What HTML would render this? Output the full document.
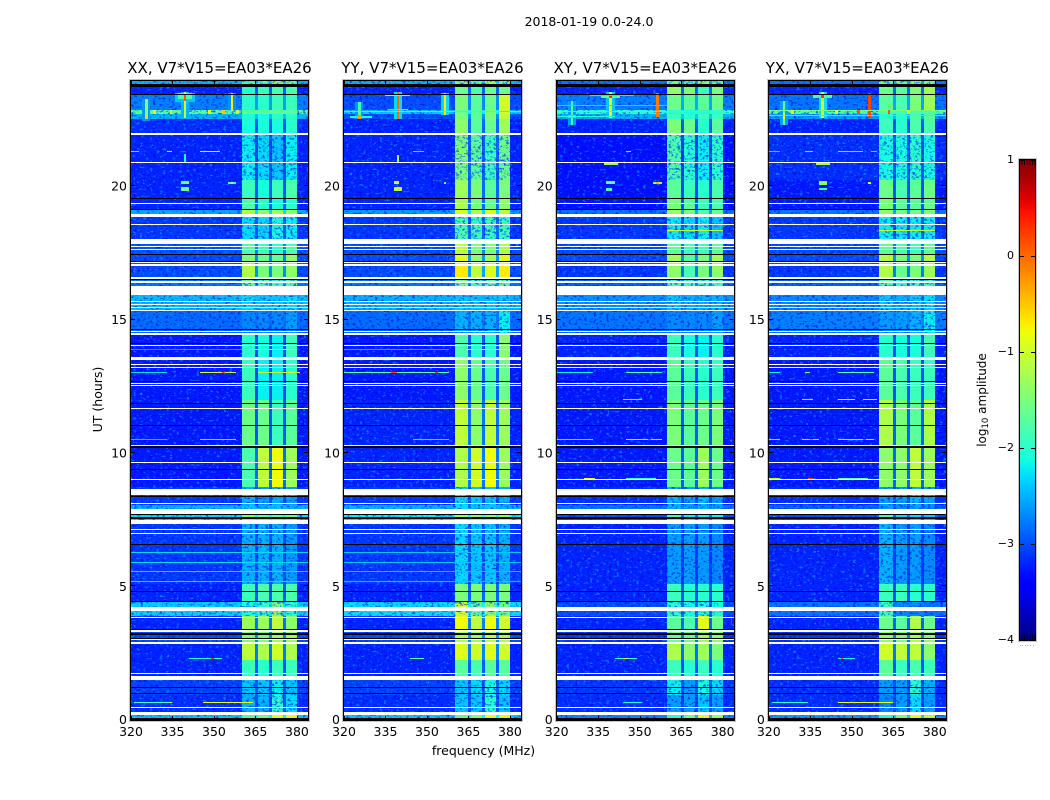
<!DOCTYPE html>
<html lang="en">
<head>
<meta charset="utf-8">
<title>2018-01-19 0.0-24.0</title>
<style>
html,body{margin:0;padding:0;background:#fff;width:1050px;height:800px;overflow:hidden}
svg{display:block}
text{font-family:"DejaVu Sans","Liberation Sans",sans-serif;fill:#000}
</style>
</head>
<body>
<svg id="chart" width="1050" height="800" viewBox="0 0 1050 800" xmlns="http://www.w3.org/2000/svg">
<defs>
<filter id="speckle-light" filterUnits="userSpaceOnUse" x="120" y="70" width="840" height="660" color-interpolation-filters="sRGB">
<feTurbulence type="fractalNoise" baseFrequency="0.3 0.45" numOctaves="2" seed="4" result="n"/>
<feColorMatrix in="n" type="matrix" values="0 0 0 0 0  0 0 0 0 0.55  0 0 0 0 1  3 0 0 0 -1.42" result="c"/>
<feComponentTransfer in="c" result="d"><feFuncA type="discrete" tableValues="0 0 0.5 0.85"/></feComponentTransfer>
<feComposite in="d" in2="SourceAlpha" operator="in"/>
</filter>
<filter id="speckle-dark" filterUnits="userSpaceOnUse" x="120" y="70" width="840" height="660" color-interpolation-filters="sRGB">
<feTurbulence type="fractalNoise" baseFrequency="0.32 0.47" numOctaves="2" seed="17" result="n"/>
<feColorMatrix in="n" type="matrix" values="0 0 0 0 0  0 0 0 0 0  0 0 0 0 0.9  3 0 0 0 -1.3" result="c"/>
<feComponentTransfer in="c" result="d"><feFuncA type="discrete" tableValues="0 0 0.35 0.6"/></feComponentTransfer>
<feComposite in="d" in2="SourceAlpha" operator="in"/>
</filter>
<linearGradient id="cbar-gradient" x1="0" y1="1" x2="0" y2="0"></linearGradient>
</defs>
<text x="589" y="26" text-anchor="middle" font-size="12.5">2018-01-19 0.0-24.0</text>
<text x="483.5" y="755" text-anchor="middle" font-size="12.5">frequency (MHz)</text>
<text transform="translate(102,399.5) rotate(-90)" text-anchor="middle" font-size="12.5">UT (hours)</text>
<text transform="translate(986,400) rotate(-90)" text-anchor="middle" font-size="12">log<tspan font-size="8.5" dy="2">10</tspan><tspan dy="-2"> amplitude</tspan></text>
</svg>
<script>
var panelTitles = ['XX, V7*V15=EA03*EA26','YY, V7*V15=EA03*EA26','XY, V7*V15=EA03*EA26','YX, V7*V15=EA03*EA26'];
var xTicks = [320,335,350,365,380];
var yTicks = [0,5,10,15,20];
var cbarTicks = [1,0,-1,-2,-3,-4];
var cbarLabels = ['1','0','\u22121','\u22122','\u22123','\u22124'];

/* frequency band index for each of the 64 1-MHz channels: -1 background, -2 gap, 0-3 bands A-D */
var channelBand = [-1,-1,-1,-1,-1,-1,-1,-1,-1,-1,-1,-1,-1,-1,-1,-1,-1,-1,-1,-1,
 -1,-1,-1,-1,-1,-1,-1,-1,-1,-1,-1,-1,-1,-1,-1,-1,-1,-1,-1,-1,
 0,0,0,0,0,-2,1,1,1,1,-2,2,2,2,2,-2,3,3,3,3,-1,-1,-1,-1];

/* upper edge (UT hours) of each time segment; last entry is the lower limit */
var rowTops = [23.98,23.71,23.41,22.87,22.72,22.51,21.95,20.23,19.52,19.12,18.84,17.83,17.42,17.00,16.51,15.96,15.32,14.42,13.48,11.98,10.30,8.72,8.05,7.67,7.33,5.09,4.45,3.89,3.36,2.87,2.24,1.49,0.93,0.29,0];
var noisyRows = [0,6,10,14,15,16,21,22,24,26,31,32];

/* log10 amplitude per time segment: [background, band A, band B, band C, band D] */
var levelsXX = [
[-2.5,-1.9,-1.8,-1.5,-1.7],[-3.2,-2.0,-1.9,-1.8,-1.8],[-2.75,-2.0,-2.0,-1.9,-1.9],[-1.7,-1.7,-1.7,-1.7,-1.7],
[-2.5,-2.1,-2.1,-2.0,-2.0],[-3.15,-2.1,-2.1,-2.1,-2.0],[-3.2,-2.2,-2.3,-2.4,-2.2],[-3.2,-1.9,-2.1,-1.9,-1.8],
[-3.2,-1.8,-2.0,-2.1,-2.0],[-2.55,-1.2,-1.4,-1.3,-1.4],[-3.1,-2.3,-2.3,-2.1,-2.2],[-2.95,-1.8,-1.9,-2.0,-1.8],
[-3.0,-1.5,-1.6,-1.6,-1.4],[-3.0,-1.2,-1.5,-1.5,-1.4],[-2.8,-1.7,-1.9,-1.9,-1.8],[-2.45,-2.3,-2.4,-2.4,-2.3],
[-2.85,-2.7,-2.7,-2.7,-2.6],[-3.25,-2.0,-2.1,-2.2,-1.9],[-3.25,-1.9,-2.2,-2.2,-2.0],[-3.25,-1.6,-1.6,-1.9,-1.7],
[-3.25,-1.8,-1.1,-0.8,-1.3],[-3.1,-2.5,-2.6,-2.5,-2.6],[-2.5,-2.4,-2.5,-2.4,-2.5],[-2.3,-1.5,-1.7,-1.7,-1.6],
[-3.1,-2.5,-2.5,-2.5,-2.6],[-3.2,-1.9,-1.8,-1.8,-1.8],[-2.35,-2.1,-1.9,-1.5,-2.0],[-3.2,-1.3,-1.3,-1.1,-1.4],
[-3.0,-1.5,-1.5,-1.3,-1.3],[-3.2,-1.1,-1.2,-1.0,-1.2],[-3.2,-1.9,-2.0,-1.9,-1.9],[-3.05,-2.4,-2.4,-2.2,-2.4],
[-3.15,-2.5,-2.5,-2.0,-2.3],[-2.4,-1.8,-1.6,-0.9,-0.9]];
var levelsYY = [
[-2.5,-1.6,-1.8,-1.4,-1.7],[-3.2,-1.6,-1.8,-1.6,-1.6],[-3.0,-1.5,-1.7,-1.6,-1.0],[-2.4,-1.6,-1.7,-1.5,-1.0],
[-3.0,-1.5,-1.7,-1.5,-1.1],[-3.2,-1.4,-1.7,-1.6,-1.3],[-3.2,-1.5,-1.7,-1.9,-1.6],[-3.2,-1.3,-1.5,-1.7,-1.5],
[-3.2,-1.2,-1.5,-1.6,-1.4],[-2.6,-0.9,-1.2,-0.9,-1.1],[-3.1,-1.8,-1.9,-1.9,-1.9],[-3.0,-1.1,-1.5,-1.5,-1.2],
[-3.0,-0.9,-1.4,-1.3,-0.9],[-3.0,-0.7,-1.1,-0.9,-0.7],[-2.8,-1.6,-1.9,-1.7,-1.7],[-2.5,-2.4,-2.4,-2.4,-2.4],
[-2.85,-2.5,-2.5,-2.5,-2.2],[-3.25,-1.8,-2.0,-2.0,-1.4],[-3.25,-1.4,-1.6,-1.8,-1.6],[-3.2,-1.1,-1.4,-1.1,-1.3],
[-3.2,-1.2,-1.0,-0.8,-1.3],[-3.1,-2.3,-2.4,-2.4,-2.5],[-2.5,-2.3,-2.4,-2.4,-2.5],[-2.2,-1.3,-1.4,-1.4,-1.4],
[-3.1,-2.3,-2.4,-2.4,-2.5],[-3.2,-1.5,-1.5,-1.5,-1.5],[-2.3,-1.0,-1.7,-1.4,-1.6],[-3.2,-0.8,-1.1,-0.8,-1.0],
[-3.0,-1.2,-1.3,-1.1,-1.2],[-3.2,-0.9,-1.0,-0.9,-1.0],[-3.2,-1.7,-1.8,-1.7,-1.7],[-3.05,-2.4,-2.3,-2.1,-2.3],
[-3.15,-2.4,-2.4,-2.0,-2.4],[-2.4,-1.7,-1.5,-0.9,-0.9]];
var levelsXY = [
[-2.8,-1.7,-1.8,-1.5,-1.8],[-3.2,-1.4,-1.5,-1.9,-1.5],[-2.75,-1.6,-1.7,-1.7,-1.6],[-2.0,-2.0,-2.1,-2.0,-2.0],
[-2.5,-1.9,-2.0,-1.9,-1.9],[-3.2,-1.5,-1.6,-2.0,-1.7],[-3.3,-1.8,-2.0,-2.2,-2.0],[-3.3,-1.7,-1.9,-2.0,-1.8],
[-3.3,-1.5,-1.7,-1.9,-1.8],[-2.8,-1.3,-1.5,-1.8,-1.6],[-3.1,-2.2,-2.3,-2.2,-2.4],[-3.0,-1.7,-1.9,-1.9,-1.7],
[-3.0,-1.3,-1.7,-1.5,-1.3],[-3.1,-1.4,-1.8,-1.5,-1.4],[-2.9,-1.8,-2.0,-1.9,-1.9],[-2.65,-2.4,-2.5,-2.5,-2.5],
[-2.8,-2.7,-2.7,-2.7,-2.6],[-3.2,-1.9,-2.1,-2.2,-2.0],[-3.25,-1.7,-1.9,-2.0,-1.9],[-3.25,-1.5,-1.7,-1.6,-1.5],
[-3.25,-1.6,-1.7,-1.3,-1.6],[-3.15,-2.5,-2.6,-2.5,-2.6],[-2.8,-2.5,-2.6,-2.5,-2.6],[-3.0,-1.9,-2.2,-2.2,-2.2],
[-3.2,-2.6,-2.6,-2.6,-2.7],[-3.2,-1.9,-2.0,-2.0,-2.0],[-3.0,-2.0,-2.1,-2.1,-2.1],[-3.2,-1.7,-1.8,-0.9,-1.6],
[-3.1,-1.6,-1.6,-1.3,-1.4],[-3.2,-1.2,-1.4,-1.3,-1.5],[-3.2,-1.9,-2.0,-1.9,-2.0],[-3.1,-2.2,-2.6,-2.1,-2.3],
[-3.15,-2.6,-2.6,-2.4,-2.6],[-2.7,-2.0,-1.6,-0.9,-1.4]];
var levelsYX = [
[-2.8,-1.7,-1.8,-1.4,-1.6],[-3.2,-1.6,-1.7,-1.5,-1.3],[-2.8,-1.7,-1.8,-1.5,-1.3],[-1.8,-1.8,-1.9,-1.8,-1.8],
[-2.6,-2.0,-2.0,-1.8,-1.7],[-3.2,-1.9,-2.0,-1.8,-1.8],[-3.15,-2.1,-2.1,-2.0,-2.1],[-3.25,-1.6,-1.8,-1.7,-1.6],
[-3.25,-1.5,-1.7,-1.7,-1.6],[-2.8,-1.4,-1.6,-1.6,-1.5],[-3.1,-2.2,-2.2,-2.2,-2.2],[-3.0,-1.7,-1.8,-1.9,-1.7],
[-3.0,-1.2,-1.5,-1.5,-1.2],[-3.1,-1.2,-1.6,-1.5,-1.3],[-2.9,-1.8,-2.0,-1.9,-1.9],[-2.7,-2.4,-2.5,-2.4,-2.3],
[-2.75,-2.6,-2.6,-2.5,-2.2],[-3.2,-2.0,-2.1,-2.1,-1.9],[-3.25,-1.7,-1.8,-1.9,-1.9],[-3.25,-1.2,-1.5,-1.7,-1.2],
[-3.25,-1.4,-1.4,-1.1,-1.3],[-3.15,-2.6,-2.6,-2.5,-2.6],[-2.9,-2.6,-2.7,-2.6,-2.7],[-3.0,-1.9,-2.3,-2.3,-2.4],
[-3.2,-2.5,-2.6,-2.6,-2.7],[-3.2,-1.9,-1.9,-2.0,-2.0],[-2.8,-1.9,-2.7,-2.7,-2.8],[-3.2,-1.6,-1.7,-1.2,-1.6],
[-3.1,-1.4,-1.5,-1.2,-1.4],[-3.2,-1.0,-1.1,-1.1,-1.4],[-3.2,-1.7,-1.9,-1.8,-1.9],[-3.15,-2.6,-2.6,-2.0,-2.5],
[-3.15,-2.7,-2.6,-2.3,-2.6],[-2.6,-2.1,-1.6,-0.9,-1.2]];

/* interference features: [first channel, last channel, top hour, bottom hour, log10 amplitude] */
var rfiXX = [
[4,6,23.26,22.45,-2.65],[5,5,23.26,22.51,-1.4],[5,5,22.65,22.55,-0.6],[18,20,23.53,22.55,-2.5],[16,22,23.5,23.15,-2.4],[17,21,23.5,23.25,-1.8],[19,19,23.53,22.55,-1.0],[19,19,23.45,23.2,0.1],
[35,37,23.49,22.85,-2.65],[36,36,23.49,22.85,-0.7],[8,8,22.87,22.72,-0.9],[14,14,22.87,22.72,-1.0],[28,28,22.87,22.72,-0.8],[33,33,22.87,22.72,-0.5],[38,38,22.87,22.72,-1.0],
[18,20,20.2,20.06,-1.6],[18,20,19.95,19.81,-1.6],[35,37,20.17,20.08,-1.9],[36,36,20.17,20.08,-1.1],
[25,31,21.3,21.26,-1.0],[13,14,21.3,21.26,-1.6],[0,2,21.3,21.26,-2.0],[19,19,21.2,20.9,-2.1],
[0,12,13.04,13.0,-2.3],[25,37,13.04,13.0,-1.0],[33,33,13.04,13.0,0.2],[46,60,13.04,13.0,-1.0],
[0,39,13.88,13.84,-2.6],[44,59,13.88,13.84,-1.0],[0,12,10.53,10.49,-2.4],[25,37,10.53,10.49,-1.9],
[0,63,6.28,6.24,-2.3],[0,63,5.92,5.88,-2.3],[0,63,5.58,5.54,-2.3],[0,63,5.21,5.17,-2.3],
[1,7,0.67,0.63,-1.9],[8,13,0.67,0.63,-1.9],[14,14,0.67,0.63,-0.9],[26,31,0.67,0.63,-0.9],[32,37,0.67,0.63,-0.9],[38,43,0.67,0.63,-0.9],
[21,32,2.32,2.28,-2.0],[29,29,2.32,2.28,0.3]];
var rfiYY = [
[4,6,23.16,22.5,-2.65],[5,5,23.16,22.55,-1.8],[2,9,22.61,22.55,-2.1],[5,5,22.66,22.5,-0.3],[18,20,23.53,22.5,-2.3],[19,19,23.53,22.5,0.0],[15,23,23.43,23.37,-1.5],[16,22,22.9,22.85,-2.0],
[35,37,23.49,22.68,-2.3],[36,36,23.49,22.68,-0.7],[0,63,22.81,22.77,-1.9],[19,19,21.17,20.87,-1.2],
[18,19,20.2,20.06,-1.0],[18,20,19.95,19.81,-1.1],[36,36,20.17,20.08,-1.5],[25,28,21.3,21.26,-2.2],
[0,37,13.04,13.0,-1.7],[17,18,13.04,13.0,0.2],[33,33,13.04,13.0,0.2],[0,37,13.88,13.84,-2.5],[44,59,13.88,13.84,-0.9],[25,37,10.53,10.49,-2.2],
[0,63,6.28,6.24,-2.4],[0,63,5.92,5.88,-2.4],[0,63,5.58,5.54,-2.4],[0,63,5.21,5.17,-2.4],[24,28,2.32,2.28,-1.7]];
var rfiXY = [
[4,6,23.2,22.3,-2.6],[5,5,23.2,22.3,-1.8],[4,6,22.65,22.55,-0.3],[18,20,23.54,22.55,-2.4],[19,19,23.54,22.55,-0.9],[16,22,23.45,23.3,-1.7],[19,19,23.45,23.3,0.3],[12,27,23.4,23.36,-2.2],
[36,36,23.49,22.6,-0.1],[0,63,22.83,22.77,-1.9],[0,20,22.62,22.58,-2.0],[0,39,23.05,23.0,-2.3],
[18,20,20.18,20.06,-1.7],[18,19,19.92,19.82,-1.8],[35,37,20.14,20.06,-1.3],[36,36,20.14,20.06,-0.4],[17,21,20.87,20.8,-1.3],[25,26,21.3,21.26,-1.6],
[0,12,13.04,13.0,-2.2],[25,37,13.04,13.0,-1.8],[40,59,18.34,18.30,-1.0],[24,30,12.03,11.99,-1.8],
[0,12,10.53,10.49,-2.1],[25,37,10.53,10.49,-1.4],[33,33,10.53,10.49,0.2],[25,35,9.07,9.03,-1.8],[10,13,9.07,9.03,-0.8],
[21,28,2.32,2.28,-2.0],[24,25,2.32,2.28,-1.2],[24,30,0.67,0.63,-2.1]];
var rfiYX = [
[4,6,23.2,22.3,-2.6],[5,5,23.2,22.3,-1.6],[5,5,22.75,22.5,-0.8],[18,20,23.54,22.55,-2.3],[19,19,23.54,22.55,-1.0],[16,22,23.45,23.3,-1.8],[19,19,23.45,23.3,0.3],[36,36,23.49,22.6,0.2],
[0,63,22.85,22.8,-1.5],[0,63,22.68,22.64,-2.0],[8,8,22.87,22.72,-0.9],[24,24,22.87,22.72,-0.8],[32,32,22.87,22.72,0.1],[43,43,22.87,22.72,0.1],[50,50,22.87,22.72,-0.8],
[18,20,20.2,20.05,-1.4],[18,20,19.92,19.84,-1.9],[36,36,20.14,20.06,-1.0],[17,21,20.87,20.8,-1.2],
[25,33,21.3,21.26,-1.9],[13,15,21.3,21.26,-2.0],[0,3,21.3,21.26,-2.3],[37,38,21.3,21.26,-2.2],
[25,37,13.04,13.0,-1.8],[0,3,13.04,13.0,-2.2],[13,14,13.04,13.0,-1.6],[40,59,18.34,18.30,-1.0],
[25,30,12.03,11.99,-1.1],[12,15,12.03,11.99,-1.5],[34,38,12.03,11.99,-1.2],
[0,3,10.53,10.49,-1.7],[12,17,10.53,10.49,-1.5],[15,15,10.53,10.49,0.0],[25,37,10.53,10.49,-1.3],[34,34,10.53,10.49,0.3],
[0,3,9.07,9.03,-1.0],[14,15,9.07,9.03,0.1],[25,35,9.07,9.03,-1.6],[25,30,2.32,2.28,-2.1],[26,26,2.32,2.28,0.3],
[1,6,0.67,0.63,-2.0],[7,13,0.67,0.63,-2.0],[25,30,0.67,0.63,-0.9],[31,37,0.67,0.63,-0.9],[38,44,0.67,0.63,-0.9]];

/* flagged (blank) time ranges [low hour, high hour] */
var flaggedRows = [[21.93,22.00],[20.87,20.90],[19.33,19.36],[18.84,18.97],[18.54,18.58],[17.83,18.03],[17.71,17.74],[17.60,17.63],[17.11,17.14],[17.02,17.07],[16.53,16.58],[16.36,16.45],[15.93,16.27],[15.66,15.69],[15.54,15.58],[15.42,15.46],[15.32,15.36],[14.53,14.57],[14.42,14.51],[14.02,14.04],[13.48,13.61],[13.28,13.32],[13.19,13.23],[12.57,12.61],[12.49,12.53],[11.66,11.69],[10.26,10.30],[9.62,9.66],[9.00,9.03],[8.46,8.66],[8.41,8.45],[8.08,8.12],[7.71,7.90],[7.33,7.47],[7.10,7.14],[6.96,7.00],[4.07,4.24],[3.81,3.86],[3.28,3.35],[3.00,3.02],[2.85,2.92],[1.70,1.74],[1.49,1.64],[0.44,0.48],[0.18,0.28]];
/* zero-amplitude (black) time ranges [low hour, high hour] */
var zeroRows = [[23.70,23.82],[23.42,23.46],[19.52,19.56],[19.10,19.14],[17.42,17.46],[17.15,17.19],[16.49,16.53],[14.59,14.63],[14.52,14.56],[14.09,14.13],[12.65,12.69],[11.82,11.86],[11.01,11.05],[10.20,10.24],[9.36,9.40],[8.34,8.38],[7.66,7.70],[7.54,7.58],[6.56,6.60],[4.78,4.82],[4.41,4.45],[3.36,3.40],[3.22,3.26],[3.17,3.21],[3.04,3.08],[1.19,1.23],[0.97,1.01],[0,0.08]];

var panelLevels = [levelsXX,levelsYY,levelsXY,levelsYX];
var panelRfi = [rfiXX,rfiYY,rfiXY,rfiYX];
var panelNames = ['xx','yy','xy','yx'];

var panelLefts = [131,344,556.7,768.8];
var PANEL_W = 177, AX_TOP = 81, AX_BOTTOM = 720;
var VMIN = -4, VMAX = 1, FMIN = 320, FMAX = 384;
var Y0 = 719.7, PX_PER_HOUR = 26.68;

var svg = document.getElementById('chart');
var NS = 'http://www.w3.org/2000/svg';

function xScale(left, f){ return left + (f - FMIN) / (FMAX - FMIN) * PANEL_W; }
function yScale(h){ return Y0 - h * PX_PER_HOUR; }
function ramp(t, a, b, va, vb){ return va + (t - a) / (b - a) * (vb - va); }
function jet(v){
  var t = Math.max(0, Math.min(1, (v - VMIN) / (VMAX - VMIN)));
  var r = t < .35 ? 0 : t < .66 ? ramp(t,.35,.66,0,1) : t < .89 ? 1 : ramp(t,.89,1,1,.5);
  var g = t < .125 ? 0 : t < .375 ? ramp(t,.125,.375,0,1) : t < .64 ? 1 : t < .91 ? ramp(t,.64,.91,1,0) : 0;
  var b = t < .11 ? ramp(t,0,.11,.5,1) : t < .34 ? 1 : t < .65 ? ramp(t,.34,.65,1,0) : 0;
  return 'rgb(' + Math.round(r*255) + ',' + Math.round(g*255) + ',' + Math.round(b*255) + ')';
}
function make(tag, attrs, parent){
  var el = document.createElementNS(NS, tag);
  for (var k in attrs) el.setAttribute(k, attrs[k]);
  parent.appendChild(el);
  return el;
}
function hourRect(parent, left, hTop, hBottom, c0, c1, fill){
  var x0 = Math.round(xScale(left, FMIN + c0)), x1 = Math.round(xScale(left, FMIN + c1 + 1));
  var y0 = Math.round(yScale(hTop)), y1 = Math.round(yScale(hBottom));
  return make('rect', {x:x0, y:y0, width:Math.max(1,x1-x0), height:Math.max(1,y1-y0), fill:fill}, parent);
}
function cellValue(level, ch){
  var b = channelBand[ch];
  if (b === -1) return level[0];
  if (b === -2) {
    var neighbour = (level[1] + level[2] + level[3] + level[4]) / 4;
    return level[0] + 0.2 * (neighbour - level[0]);
  }
  return level[b + 1];
}

panelTitles.forEach(function(title, p){
  var left = panelLefts[p], right = left + PANEL_W, levels = panelLevels[p];
  var g = make('g', {}, svg);
  
  

  var heat = make('g', {'shape-rendering':'crispEdges'}, g);
  
  
  levels.forEach(function(level, r){
    for (var ch = 0; ch < 64; ch++) {
      var cell = hourRect(heat, left, rowTops[r], rowTops[r+1], ch, ch, jet(cellValue(level, ch)));
      
      
    }
  });

  /* visual grain only: a filter texture over the noise-floor areas, carrying no data */
  ['speckle-light','speckle-dark'].forEach(function(fid){
    var tex = make('g', {filter:'url(#' + fid + ')', 'shape-rendering':'crispEdges'}, g);
    
    
    levels.forEach(function(level, r){
      if (noisyRows.indexOf(r) >= 0) {
        hourRect(tex, left, rowTops[r], rowTops[r+1], 0, 63, '#000');
      } else {
        hourRect(tex, left, rowTops[r], rowTops[r+1], 0, 39, '#000');
        hourRect(tex, left, rowTops[r], rowTops[r+1], 60, 63, '#000');
      }
    });
  });

  var rfi = make('g', {'shape-rendering':'crispEdges'}, g);
  
  
  panelRfi[p].forEach(function(f){
    var mark = hourRect(rfi, left, f[2], f[3], f[0], f[1], jet(f[4]));
    
    
  });

  var blanks = make('g', {'shape-rendering':'crispEdges'}, g);
  
  
  zeroRows.forEach(function(z){
    var line = hourRect(blanks, left, z[1], z[0], 0, 63, '#000');
    
    
  });
  flaggedRows.forEach(function(z){
    var line = hourRect(blanks, left, z[1], z[0], 0, 63, '#fff');
    
    
  });

  var frame = make('g', {'shape-rendering':'crispEdges'}, g);
  
  
  make('rect', {x:Math.round(left)-1.5, y:AX_TOP-1.5, width:PANEL_W+3, height:AX_BOTTOM-AX_TOP+3, fill:'none', stroke:'#c4c4c4', 'stroke-width':1}, frame);
  make('rect', {x:Math.round(left)-0.5, y:AX_TOP-0.5, width:PANEL_W+1, height:AX_BOTTOM-AX_TOP+1, fill:'none', stroke:'#000', 'stroke-width':1}, frame);

  xTicks.forEach(function(f){
    var x = Math.round(xScale(left, f)) + 0.5;
    var t1 = make('line', {x1:x, x2:x, y1:AX_BOTTOM, y2:AX_BOTTOM-4, stroke:'#000'}, frame);
    
    
    var t2 = make('line', {x1:x, x2:x, y1:AX_TOP, y2:AX_TOP+4, stroke:'#000'}, frame);
    
    
    var lab = make('text', {x:xScale(left, f), y:736, 'text-anchor':'middle', 'font-size':12.5}, g);
    
    
    lab.textContent = f;
  });
  yTicks.forEach(function(h){
    var y = Math.round(yScale(h)) - 0.5;
    var t1 = make('line', {x1:left, x2:left+4, y1:y, y2:y, stroke:'#000'}, frame);
    
    
    var t2 = make('line', {x1:right, x2:right-4, y1:y, y2:y, stroke:'#000'}, frame);
    
    
    var lab = make('text', {x:left-4, y:yScale(h)+4.5, 'text-anchor':'end', 'font-size':12.5}, g);
    
    
    lab.textContent = h;
  });

  var tt = make('text', {x:left + PANEL_W/2, y:73, 'text-anchor':'middle', 'font-size':15}, g);
  
  
  tt.textContent = title;
});

/* colorbar */
var CB_X = 1020, CB_W = 15, CB_TOP = 160, CB_BOTTOM = 640;
function cbScale(v){ return CB_BOTTOM - (v - VMIN) / (VMAX - VMIN) * (CB_BOTTOM - CB_TOP); }
var grad = document.getElementById('cbar-gradient');
for (var s = 0; s <= 50; s++) {
  make('stop', {offset:(s/50), 'stop-color':jet(VMIN + s/50*(VMAX-VMIN))}, grad);
}
var cb = make('g', {}, svg);


make('rect', {x:CB_X-1.5, y:CB_TOP-1.5, width:CB_W+3, height:CB_BOTTOM-CB_TOP+3, fill:'none', stroke:'#c4c4c4', 'shape-rendering':'crispEdges'}, cb);
make('rect', {x:CB_X-0.5, y:CB_TOP-0.5, width:CB_W+1, height:CB_BOTTOM-CB_TOP+1, fill:'url(#cbar-gradient)', stroke:'#000', 'shape-rendering':'crispEdges'}, cb);
cbarTicks.forEach(function(v, i){
  var y = Math.round(cbScale(v)) + 0.5;
  var a = make('line', {x1:CB_X, x2:CB_X+4, y1:y, y2:y, stroke:'#000', 'shape-rendering':'crispEdges'}, cb);
  
  
  var b = make('line', {x1:CB_X+CB_W, x2:CB_X+CB_W-4, y1:y, y2:y, stroke:'#000', 'shape-rendering':'crispEdges'}, cb);
  
  
  var lab = make('text', {x:1014, y:cbScale(v)+3, 'text-anchor':'end', 'font-size':11}, cb);
  
  
  lab.textContent = cbarLabels[i];
});
for (var m = 0; m < 6; m++) {
  var mx = CB_X + 2 + m * 2.6;
  make('line', {x1:mx, x2:mx, y1:CB_TOP, y2:CB_TOP+5, stroke:'#000', 'stroke-width':.8}, cb);
  make('line', {x1:mx, x2:mx, y1:CB_BOTTOM, y2:CB_BOTTOM-5, stroke:'#000', 'stroke-width':.8}, cb);
  make('rect', {x:Math.round(mx-2.5), y:645, width:1, height:1, fill:'#aaa'}, cb);
}
</script>
</body>
</html>
